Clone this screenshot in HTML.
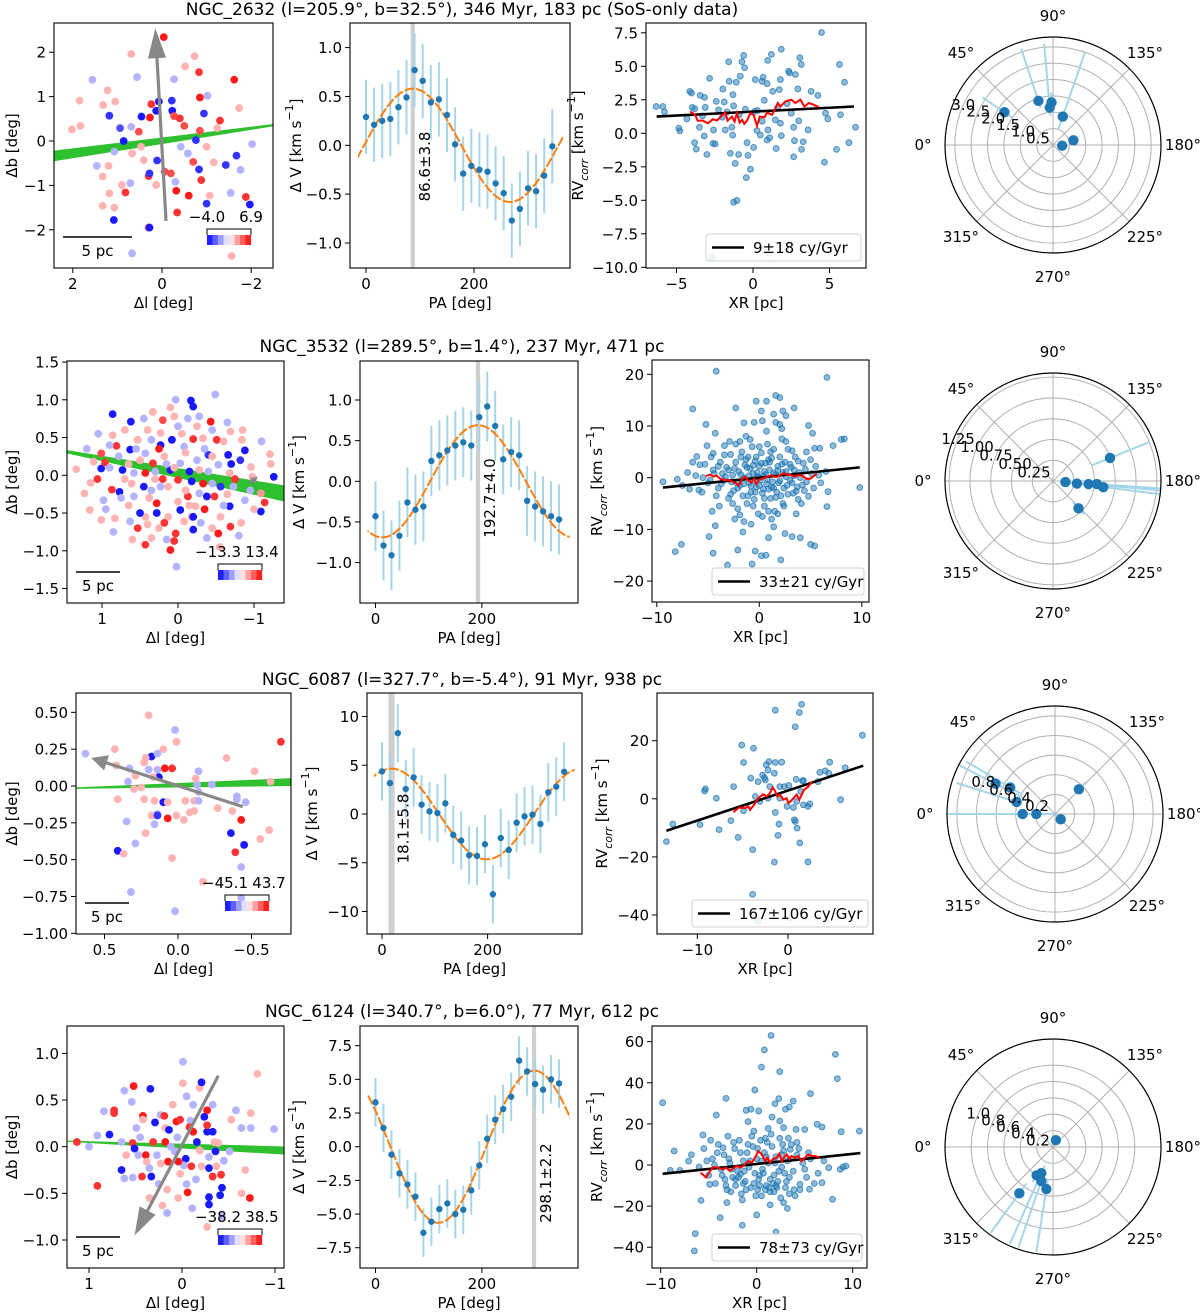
<!DOCTYPE html>
<html><head><meta charset="utf-8"><title>Cluster rotation figure</title>
<style>
html,body{margin:0;padding:0;background:#fff;}
svg{display:block;font-family:"DejaVu Sans","Liberation Sans",sans-serif;}
</style></head>
<body>
<svg id="fig" width="1200" height="1313" viewBox="0 0 1200 1313" xmlns="http://www.w3.org/2000/svg"></svg>
<script>
// ---------------- DATA ----------------
const titles=["NGC_2632 (l=205.9°, b=32.5°), 346 Myr, 183 pc (SoS-only data)","NGC_3532 (l=289.5°, b=1.4°), 237 Myr, 471 pc","NGC_6087 (l=327.7°, b=-5.4°), 91 Myr, 938 pc","NGC_6124 (l=340.7°, b=6.0°), 77 Myr, 612 pc"];
const cbarLabels=[["−4.0","6.9"],["−13.3","13.4"],["−45.1","43.7"],["−38.2","38.5"]];
const legendLabels=["9±18 cy/Gyr","33±21 cy/Gyr","167±106 cy/Gyr","78±73 cy/Gyr"];
const paLabels=["86.6±3.8","192.7±4.0","18.1±5.8","298.1±2.2"];
const sky1=[[-0.04,2.34,0.9],[0.69,1.96,0.3],[-0.73,1.91,0.3],[-0.52,1.68,0.3],[-0.83,1.55,0.8],[-1.62,1.38,0.9],[1.56,1.38,-0.3],[0.56,1.44,-0.3],[-0.27,1.39,-0.3],[1.22,1.14,0.3],[1.85,0.91,0.3],[1.32,0.81,0.3],[1.05,0.89,0.3],[0.24,0.83,0.8],[0.07,0.89,-0.9],[-0.22,0.91,-0.8],[-0.85,0.98,0.9],[-1.02,1.02,-0.3],[-1.73,0.74,0.3],[1.18,0.57,-0.8],[0.46,0.55,-0.9],[0.27,0.53,0.9],[0.13,0.68,-0.9],[-0.23,0.68,-0.9],[-0.27,0.56,0.7],[-0.4,0.51,0.8],[-0.94,0.62,-0.8],[-1.3,0.46,0.8],[2.02,0.26,0.3],[1.83,0.34,0.3],[0.94,0.29,-0.7],[0.69,0.32,-0.3],[0.52,0.21,0.7],[-0.5,0.34,0.7],[-0.85,0.23,0.7],[-1.24,0.29,0.3],[0.86,0,-0.9],[0.47,-0.13,0.3],[1.07,-0.24,-0.3],[0.67,-0.28,0.3],[0.11,-0.44,-0.8],[-0.42,-0.13,-0.3],[-0.58,-0.28,-0.3],[-0.76,0.02,-0.8],[-1.0,-0.13,0.3],[-1.67,-0.33,-0.8],[-2.02,-0.07,-0.3],[1.46,-0.56,-0.3],[1.2,-0.56,0.3],[0.41,-0.43,0.3],[0.3,-0.79,0.8],[0.28,-0.73,-0.8],[-0.06,-0.69,0.7],[-0.2,-0.73,0.7],[-0.7,-0.47,0.7],[-0.83,-0.64,-0.8],[-1.16,-0.48,0.3],[-1.43,-0.54,-0.8],[-1.76,-0.65,-0.3],[-0.88,-0.88,0.8],[1.33,-0.8,0.3],[0.9,-0.99,0.3],[0.71,-0.95,-0.3],[0.13,-0.99,0.3],[-0.3,-0.92,-0.3],[-0.32,-1.12,0.9],[0.82,-1.16,0.8],[1.18,-1.18,0.3],[-0.6,-1.23,0.9],[-1.07,-1.23,0.3],[-1.54,-1.17,-0.3],[-1.88,-1.26,0.8],[1.33,-1.46,0.3],[1.07,-1.5,0.3],[-0.34,-1.61,0.8],[-1.0,-1.41,-0.8],[-1.97,-1.43,-0.9],[1.08,-1.78,-0.9],[0.3,-1.95,0.7],[0.28,-1.95,-0.9],[0.67,-2.53,-0.3],[-1.56,-2.59,0.3]];
const sky2=[[0.86,0.81,-0.9],[0.62,0.71,-0.9],[0.03,1.0,-0.3],[-0.17,0.99,-0.9],[-0.2,0.91,-0.9],[-0.49,1.07,-0.3],[-0.43,0.71,0.9],[-0.65,0.7,-0.3],[0.33,0.84,0.3],[0.2,0.73,0.7],[0.05,0.78,0.3],[-0.13,0.75,-0.3],[-0.28,0.78,-0.3],[-0.69,0.58,0.3],[-0.84,0.47,0.3],[-0.88,0.33,-0.9],[-0.82,0.2,-0.8],[-0.66,0.27,-0.9],[-1.21,0.28,0.3],[-1.22,0.15,0.3],[-1.26,-0.02,-0.9],[-0.96,0.11,0.3],[-0.98,-0.02,0.3],[-1.09,-0.24,0.4],[-1.14,-0.36,0.8],[-1.09,-0.48,-0.9],[-0.88,-0.33,-0.3],[-0.68,-0.41,-0.9],[-0.83,-0.63,0.3],[-0.69,-0.68,0.8],[-0.56,-0.55,0.3],[-0.53,-0.77,0.9],[-0.38,-0.83,-0.3],[-0.2,-0.72,-0.9],[-0.08,-0.61,0.3],[0.03,-0.77,0.8],[0.05,-0.87,0.8],[0.1,-0.99,0.9],[0.02,-1.21,-0.3],[0.43,-0.92,0.8],[0.35,-0.83,0.3],[0.53,-0.7,0.8],[0.63,-0.61,-0.3],[0.83,-0.57,0.3],[1.01,-0.59,0.3],[1.16,-0.46,0.3],[1.23,-0.24,0.3],[1.34,0.08,0.3],[1.11,0.18,0.3],[1.01,0.09,-0.9],[1.06,-0.05,0.8],[0.96,0.17,0.8],[1.01,0.29,0.7],[0.86,0.53,0.3],[0.81,0.39,0.8],[0.78,0.25,-0.3],[0.73,0.07,-0.9],[0.77,-0.22,-0.9],[0.87,-0.19,0.8],[0.98,-0.33,-0.3],[0.63,0.34,-0.9],[0.61,-0.11,0.3],[0.58,-0.28,-0.3],[0.43,0.03,0.9],[0.45,-0.15,-0.9],[0.38,-0.3,0.3],[0.28,-0.37,0.9],[0.23,-0.15,-0.3],[0.33,0.16,0.8],[0.18,0.25,0.3],[0.1,0.07,-0.9],[0.13,-0.15,0.3],[0,-0.06,0.8],[-0.03,0.16,-0.3],[-0.08,0.38,-0.3],[-0.2,0.48,0.8],[0.08,0.47,-0.9],[0.23,0.56,0.3],[0.35,0.47,-0.3],[0.53,0.47,0.3],[-0.33,0.49,0.3],[-0.51,0.47,0.8],[-0.4,0.27,-0.8],[-0.53,0.14,-0.3],[-0.28,0.07,0.3],[-0.18,-0.08,-0.9],[-0.33,-0.11,0.9],[-0.45,-0.11,-0.3],[-0.56,-0.15,-0.8],[-0.28,-0.24,-0.3],[-0.13,-0.28,0.8],[-0.38,-0.28,-0.9],[-0.48,-0.28,0.8],[-0.23,-0.41,0.3],[-0.03,-0.46,-0.9],[0.13,-0.55,0.3],[0.28,-0.5,-0.9],[0.43,-0.55,0.3],[0.18,-0.63,0.8],[-0.18,-0.55,0.3],[-0.3,-0.63,-0.3],[0.58,0.03,-0.3],[0.43,0.29,-0.3],[0.23,0.4,-0.9],[-0.68,0.03,0.3],[-0.73,-0.15,-0.3],[0.3,-0.05,0.3],[-0.1,0.3,0.3],[0.5,0.2,0.3],[-0.35,0.35,-0.3],[0.65,-0.4,0.3],[-0.6,-0.4,-0.3],[0.15,0.15,-0.3],[-0.15,-0.4,0.3],[0.4,0.6,0.3],[-0.45,0.6,-0.3],[0.7,0.6,0.3],[0.9,0.1,-0.3],[0.5,-0.5,-0.9],[0.25,0.35,0.9],[-0.05,0.55,0.3],[-0.25,0.2,-0.3],[-0.6,0.45,0.3],[-0.75,-0.05,0.8],[-0.95,-0.2,-0.3],[-0.45,-0.7,0.3],[0.15,-0.85,-0.3],[0.6,-0.85,0.3],[0.95,-0.45,-0.3],[1.15,-0.1,0.3],[0.05,0.1,0.3],[0.35,-0.2,-0.3],[-0.1,-0.2,0.3],[-0.4,0.05,-0.3],[0.2,-0.05,0.8],[-0.2,-0.55,-0.9],[0.7,-0.05,0.3],[0.55,0.35,-0.3],[-0.7,0.15,-0.9],[0.0,0.65,-0.3],[0.25,-0.7,0.3],[-0.35,-0.45,0.9],[0.9,0.4,-0.3],[-0.85,0.6,0.3],[1.05,0.55,-0.3],[-1.0,-0.45,0.3],[0.45,0.75,-0.3],[-0.25,0.65,0.3],[0.1,0.9,0.3],[-0.55,-0.95,0.3],[0.75,-0.3,-0.3],[-0.15,0.05,-0.9],[0.4,-0.65,0.3],[-0.65,-0.25,0.3],[1.2,0.35,-0.3],[-1.1,0.45,-0.3],[0.3,0.05,-0.3],[0.0,-0.35,0.3],[-0.45,0.25,0.3],[0.65,0.15,0.3],[0.85,-0.75,-0.3],[-0.8,-0.8,-0.3]];
const sky3=[[0.63,0.22,-0.3],[0.43,0.25,0.3],[0.2,0.48,0.3],[0.02,0.38,-0.3],[0.01,0.3,0.3],[0.18,0.2,-0.9],[0.14,0.22,-0.3],[0.1,0.25,0.3],[0.23,0.16,0.3],[0.22,0.19,0.3],[0.42,0.14,0.3],[0.33,0.12,-0.3],[0.2,0.11,-0.3],[0.14,0.11,-0.3],[0.09,0.12,0.9],[0.04,0.12,0.8],[0.13,0.06,-0.9],[0.17,0.06,0.3],[0.29,0.07,0.3],[0.34,0.03,-0.3],[0.3,-0.02,0.3],[0.25,-0.01,0.3],[0.41,-0.09,0.3],[0.23,-0.09,0.3],[0.16,-0.1,0.3],[0.1,-0.11,-0.9],[0.07,-0.11,0.3],[-0.05,-0.1,0.3],[-0.11,-0.1,0.3],[-0.14,-0.1,-0.3],[-0.08,-0.18,0.3],[-0.11,-0.17,0.3],[0.18,-0.2,0.3],[0.14,-0.19,-0.3],[0.14,-0.2,-0.8],[0.07,-0.22,0.9],[0.01,-0.2,0.3],[-0.04,-0.23,0.3],[0.16,-0.26,-0.3],[0.22,-0.32,0.3],[0.35,-0.24,-0.3],[0.29,-0.39,-0.3],[0.41,-0.44,-0.9],[0.37,-0.46,0.3],[0.04,-0.49,0.3],[-0.13,0.01,-0.3],[-0.23,0.01,-0.3],[-0.14,0.1,-0.3],[-0.12,0.05,0.3],[-0.14,-0.04,-0.3],[-0.33,0.19,0.3],[-0.52,0.1,0.3],[-0.63,0.03,0.3],[-0.7,0.3,0.8],[-0.27,-0.15,0.3],[-0.37,-0.17,0.3],[-0.4,-0.07,-0.3],[-0.4,-0.09,-0.3],[-0.46,-0.11,-0.3],[-0.43,-0.23,0.9],[-0.36,-0.32,-0.9],[-0.45,-0.4,-0.9],[-0.39,-0.45,0.8],[-0.56,-0.36,0.3],[-0.62,-0.3,0.3],[-0.43,-0.55,-0.3],[-0.17,-0.65,0.3],[-0.43,-0.76,-0.3],[0.32,-0.72,-0.3],[0.02,-0.85,-0.3]];
const sky4=[[1.13,0.05,0.8],[1,0,-0.3],[0.91,0.12,-0.3],[0.78,0.13,-0.9],[0.91,-0.42,0.8],[0.73,0.39,0.8],[0.73,0.36,0.8],[0.62,0.6,-0.3],[0.52,0.65,0.9],[0.54,0.48,-0.3],[0.34,0.62,-0.9],[0.42,0.33,0.9],[0.42,0.29,0.3],[0.29,0.26,-0.9],[0.49,0.2,-0.3],[0.65,0.05,-0.3],[0.53,0.04,0.8],[0.51,-0.02,-0.9],[0.6,-0.09,0.3],[0.65,-0.25,-0.9],[0.62,-0.34,-0.3],[0.53,-0.33,-0.3],[0.43,-0.32,0.8],[0.33,-0.32,-0.9],[0.39,-0.09,0.9],[0.38,-0.16,0.3],[0.35,-0.23,-0.3],[0.31,0.05,0.8],[0.27,-0.09,-0.3],[0.23,0.34,-0.3],[0.19,0.33,0.8],[0.18,0.2,0.3],[0.14,0.18,-0.9],[0.18,0.05,0.9],[0.15,-0.16,0.9],[0.12,0,-0.3],[0.08,-0.05,-0.3],[0.06,0.27,0.9],[0.02,0.29,0.8],[-0.01,0.91,-0.3],[-0.01,0.68,0.3],[-0.05,0.54,-0.3],[-0.12,0.45,-0.3],[-0.19,0.63,0.3],[-0.21,0.69,-0.9],[-0.33,0.45,-0.3],[-0.27,0.39,0.9],[-0.24,0.32,-0.9],[-0.09,0.28,-0.3],[-0.08,0.21,0.8],[-0.12,0.16,0.9],[-0.16,0.05,-0.9],[-0.27,0.16,-0.9],[-0.33,0.16,-0.9],[-0.27,0.23,0.8],[-0.35,0.05,0.3],[-0.36,-0.05,-0.9],[-0.29,-0.11,-0.3],[-0.19,-0.04,0.3],[-0.04,-0.13,-0.9],[-0.02,-0.2,-0.3],[0.04,-0.16,0.9],[0.02,-0.29,0.3],[-0.1,-0.21,0.8],[-0.21,-0.21,0.3],[-0.29,-0.23,-0.9],[-0.37,-0.21,0.3],[-0.33,-0.32,0.8],[-0.42,-0.3,0.8],[-0.43,-0.44,-0.9],[-0.41,-0.52,-0.9],[-0.29,-0.54,-0.9],[-0.29,-0.62,-0.9],[-0.06,-0.49,0.9],[0.04,-0.55,0.3],[0.16,-0.46,0.3],[0.21,-0.63,0.3],[0.16,-0.71,-0.3],[-0.11,-0.66,-0.3],[-0.53,0.29,0.3],[-0.58,0.39,-0.3],[-0.64,0.2,-0.3],[-0.74,0.36,0.3],[-0.81,0.78,0.3],[-0.99,0.19,-0.3],[-0.74,0.2,-0.3],[-0.39,0.04,0.3],[-0.51,-0.05,-0.3],[-0.68,-0.25,0.3],[-0.64,-0.5,0.3],[-0.73,-0.55,0.9],[-0.27,-0.86,0.3],[-0.43,-0.75,-0.3],[0.84,0.38,-0.3],[0.47,-0.09,-0.3],[0.23,-0.18,0.3],[0.05,0.1,-0.3],[0.25,-0.4,-0.3],[-0.15,-0.35,-0.3],[0.45,0.1,-0.3],[-0.45,-0.15,-0.3],[0.1,0.45,0.3],[-0.05,-0.4,-0.3],[0.35,-0.55,0.3]];
const band1=[[2.45,-0.22],[-2.8,0.42],[-2.8,0.38],[2.45,-0.46]];
const band2=[[1.5,0.34],[-1.5,-0.15],[-1.5,-0.37],[1.5,0.3]];
const band3=[[0.75,-0.012],[-0.8,0.055],[-0.8,0.0],[0.75,-0.02]];
const band4=[[1.25,0.066],[-1.2,0.0],[-1.2,-0.09],[1.25,0.054]];
const arrow1=[-0.09,-1.8,0.15,2.54];
const arrow2=[-0.95,-0.1,-1.05,-0.02];
const arrow3=[-0.44,-0.14,0.59,0.19];
const arrow4=[-0.39,0.76,0.51,-0.95];
const paAngles=[0,15,30,45,60,75,90,105,120,135,150,165,180,195,210,225,240,255,270,285,300,315,330,345];
const dv1=[0.29,0.21,0.25,0.27,0.39,0.49,0.77,0.66,0.44,0.47,0.31,0.01,-0.29,-0.21,-0.25,-0.27,-0.39,-0.49,-0.77,-0.65,-0.44,-0.47,-0.31,-0.01];
const dv2=[-0.43,-0.79,-0.91,-0.67,-0.26,-0.35,-0.31,0.25,0.32,0.38,0.44,0.48,0.44,0.79,0.92,0.68,0.27,0.36,0.32,-0.24,-0.31,-0.37,-0.43,-0.47];
const dv3=[4.37,3.17,8.29,2.56,3.75,0.96,0.27,0.1,1.09,-2.15,-2.73,-4.23,-4.3,-3.1,-8.23,-2.46,-3.69,-0.89,-0.24,-0.07,-1.02,2.22,2.8,4.33];
const dv4=[3.29,1.39,-0.59,-1.98,-2.8,-3.71,-6.39,-5.57,-4.63,-4.21,-5.0,-4.68,-3.24,-1.39,0.59,2.0,2.8,3.71,6.39,5.59,4.65,4.23,5.0,4.7];
const dvErr=[0.38,0.43,3.0,1.8];
const fitAmp=[0.58,0.69,4.65,5.65];
const fitPhase=[86.6,192.7,18.1,298.1];
const fitPhaseErr=[3.8,4.0,5.8,2.2];
const rv1=[[-6.33,2.0],[-5.9,2.0],[-5.79,1.6],[-4.85,0.38],[-4.78,0.18],[-4.13,3.13],[-4.02,3.0],[-3.97,1.93],[-3.8,1.83],[-4.32,1.08],[-3.82,-0.7],[-3.71,-1.18],[-3.5,0.45],[-3.45,2.83],[-3.17,2.68],[-3.12,1.93],[-3.19,-0.2],[-3.01,-1.58],[-2.84,4.1],[-2.62,-0.75],[-2.47,-0.8],[-2.58,0.25],[-2.4,2.38],[-2.25,1.75],[-1.97,3.3],[-1.88,2.33],[-1.81,0.25],[-1.59,5.34],[-1.55,3.88],[-1.48,-1.5],[-1.38,0.45],[-1.33,-0.13],[-1.27,2.05],[-1.27,-5.14],[-1.05,-5.01],[-1.16,-2.25],[-1.31,2.88],[-1.09,3.81],[-0.94,-1.58],[-0.83,4.26],[-0.72,5.34],[-0.61,5.81],[-0.55,4.89],[-0.5,1.8],[-0.39,-0.7],[-0.33,-1.65],[-0.44,-3.31],[-0.17,-2.68],[0.04,-1.05],[0.15,4.01],[0.11,1.63],[0.26,0.2],[0.48,-0.13],[0.59,3.88],[0.66,4.18],[0.74,2.46],[0.96,5.44],[0.92,3.71],[0.92,-0.5],[0.98,0.25],[1.09,-0.33],[1.2,5.89],[1.29,3.13],[1.46,1.0],[1.51,-1.13],[1.72,3.26],[1.79,4.01],[1.79,0.75],[1.85,6.27],[1.85,-0.18],[2.23,2.21],[2.33,4.64],[2.38,4.51],[2.66,0.45],[2.71,-0.55],[2.66,-1.75],[2.77,4.39],[2.93,3.31],[2.99,0.93],[3.06,5.64],[3.15,5.14],[3.17,-1.2],[3.28,-0.63],[3.6,0.25],[3.8,3.13],[4.24,2.83],[4.48,7.52],[4.67,-2.16],[4.74,1.5],[4.89,1.08],[5.46,-1.2],[5.65,5.14],[5.72,1.38],[5.98,3.81],[6.27,-0.7],[6.7,0.45],[-2.69,-9.27],[1.03,-8.95],[-2.0,1.2],[-0.9,1.4],[0.3,1.7],[1.6,1.9],[2.5,1.5],[-3.3,1.3],[0.6,0.9],[-1.7,1.6]];
const rv2=[[-9.4,-0.8],[-8.0,-0.3],[-7.6,-12.9],[-8.2,-14.3],[-6.5,13.3],[-6.5,3.0],[-6.1,4.1],[-6.8,-2.2],[-5.8,2.5],[-5.9,-2.4],[-5.2,10.3],[-5.1,6.2],[-4.9,-11.4],[-4.5,-14.6],[-4.3,-9.3],[-4.2,20.6],[-4.3,8.6],[-4.5,4.7],[-3.4,6.2],[-3.1,-16.9],[-2.3,13.5],[-2.1,-14.0],[-2.3,6.5],[-1.9,7.0],[-1.6,-10.5],[-1.5,10.6],[-0.7,-16.7],[-0.5,10.7],[-0.3,14.8],[-0.4,-14.2],[0.2,12.9],[0.3,11.0],[0.2,-15.1],[0.7,14.8],[0.9,-11.6],[1.4,12.3],[1.6,15.9],[2.0,15.5],[1.6,10.7],[2.0,10.3],[2.3,12.9],[2.2,9.5],[2.1,-15.9],[2.6,12.0],[3.4,13.5],[3.2,-11.4],[4.0,-11.6],[4.8,10.1],[5.2,8.6],[5.4,5.7],[5.9,5.7],[6.6,19.4],[6.6,-5.6],[6.7,-2.7],[7.2,6.2],[8.0,7.4],[8.3,7.5],[9.8,-1.9],[5.0,-12.9],[5.4,-13.2],[2.5,-10.8],[1.4,-9.5],[0.65,-15.0],[-1.5,-8.5],[-4.5,1.5],[-4,-2],[-3.8,3],[-3.5,-0.5],[-3.2,2],[-3,-4],[-2.8,4.5],[-2.6,0.5],[-2.5,-2.5],[-2.3,3],[-2.1,-6],[-2,1.2],[-1.9,-1.5],[-1.7,5],[-1.6,-3.5],[-1.5,0],[-1.4,2.5],[-1.2,-5],[-1.1,4],[-1,-1],[-0.9,1.8],[-0.8,-2.8],[-0.7,6],[-0.6,0.8],[-0.5,-4.2],[-0.4,3.2],[-0.3,-1.8],[-0.2,1],[-0.1,-7],[0,2.2],[0.1,-0.5],[0.2,4.8],[0.3,-3],[0.4,0.3],[0.5,-5.5],[0.6,2.8],[0.7,-1.2],[0.8,6.5],[0.9,-2.2],[1,1.5],[1.1,-4],[1.2,3.8],[1.3,-0.8],[1.4,5.5],[1.5,-6.5],[1.6,0.6],[1.7,-2.8],[1.8,2.2],[1.9,-1],[2,4],[2.1,-3.5],[2.3,1],[2.4,-5.5],[2.5,3],[2.7,-1.5],[2.8,5.5],[3,-0.5],[3.1,2],[3.3,-3],[3.5,4],[3.7,-1.8],[3.9,1],[4.1,-5],[4.3,2.8],[4.6,-0.8],[5,3.5],[5.3,-2],[-5,-1],[-4.7,4],[-3.9,-5.5],[-2.9,7],[-0.8,-9],[0.7,9],[2.2,7.5],[3.6,-7],[-1.3,8],[-5.5,0],[5.8,0.5],[-0.05,0.05],[1.2,-8],[-2.4,-8],[-3.6,0.8],[-2.2,-1],[-1.2,2],[-0.4,-0.6],[0.5,1.2],[1.4,-2],[2.6,0.2],[3.4,1.5],[4.4,-2.5],[-4.2,-3.5],[0.9,3.5],[-1.8,4],[-4.8,-0.5],[-4.4,0.8],[-4.0,2.2],[-3.7,-1.2],[-3.3,0.2],[-3.0,1.5],[-2.7,-0.8],[-2.4,1.8],[-2.1,-2.0],[-1.8,0.6],[-1.5,-1.2],[-1.3,3.5],[-1.0,0.4],[-0.8,-1.6],[-0.6,2.4],[-0.4,-2.8],[-0.2,0.2],[0.0,-1.5],[0.2,2.8],[0.4,-2.2],[0.6,0.6],[0.8,-0.4],[1.0,3.0],[1.2,-1.8],[1.4,0.9],[1.6,-3.8],[1.8,1.4],[2.0,-0.6],[2.2,2.6],[2.4,-2.0],[2.6,1.2],[2.8,-3.2],[3.0,2.6],[3.2,-1.0],[3.4,0.4],[3.6,-2.6],[3.8,3.2],[4.0,0.0],[4.2,-1.4],[4.5,1.6],[4.8,-3.6],[5.1,0.8],[5.5,2.2],[6.0,-1.0],[6.5,1.2],[-5.3,2.6],[-5.6,-2.8],[-6.2,0.4],[-7.0,1.0],[-7.5,-1.5],[-0.3,4.0],[0.5,-4.0],[1.1,5.0],[-1.1,-3.5],[2.3,-5.0],[-2.6,-5.0],[3.2,5.2],[-3.4,4.4],[0.0,6.0],[0.3,-7.5],[-0.9,7.4],[1.8,-7.0],[-1.9,-7.2],[2.6,7.0],[-2.8,-3.2],[3.8,-4.2],[-4.6,-6.5],[4.6,5.0],[-0.6,-5.5],[0.9,-6.5]];
const rv3=[[-13.4,-14.7],[-12.7,-8.7],[-9.7,-8.9],[-9.2,2.7],[-9.1,3.4],[-7.9,0.2],[-7.6,-10.6],[-6.3,-7.5],[-6.0,4.2],[-5.5,-13.3],[-5.1,18.5],[-4.9,12.5],[-4.9,-4.1],[-4.1,7.1],[-3.8,17.4],[-3.9,-17.5],[-3.9,-32.9],[-3.3,5.9],[-3.6,0.8],[-2.8,8.2],[-2.6,7.3],[-2.5,6.5],[-2.4,11.7],[-2.2,9.9],[-2.1,12.8],[-2.0,4.2],[-1.5,-21.8],[-1.5,8.8],[-1.4,12.5],[-1.4,30.5],[-1.4,-4.7],[-1.0,-8.7],[-1.1,-12.6],[-0.9,4.2],[-0.7,12.6],[-0.4,4.2],[-0.1,-2.6],[0.1,4.6],[0.6,-3.0],[0.7,-7.2],[0.8,24.8],[0.9,6.7],[0.96,-0.9],[1.0,-10.1],[1.25,29.7],[1.3,-15.2],[1.4,2.5],[1.5,32.5],[1.6,6.2],[1.7,-2.1],[2.2,-2.6],[2.2,-21.7],[2.4,-1.7],[3.3,5.9],[3.5,9.1],[4.1,9.6],[4.6,12.6],[4.5,8.8],[5.8,-0.3],[6.3,10.7],[8.2,21.9],[-3.3,-42.1],[0.15,-41.1],[-3.1,-0.9],[-2.2,0.2],[-0.9,0.2],[0.8,-7.8],[1.7,6.3]];
const rv4=[[-9.8,30.3],[-8.6,6.8],[-6.4,-33.4],[-6.5,-41.8],[-5.8,-17.2],[-5.6,14.6],[-4.2,24.3],[-3.8,-25.6],[-3.2,32.4],[-1.5,-29.3],[-1.1,26.6],[-0.9,21.1],[-0.6,27.1],[-0.3,16.5],[-0.2,36.5],[0,-24.3],[0.2,26.3],[0.5,47.6],[0.8,56.0],[1.2,17.8],[1.4,-19.4],[1.5,63.0],[1.6,23.3],[1.9,29.8],[2.0,-32.6],[2.3,32.3],[2.4,45.4],[2.4,21.4],[2.8,18.2],[3.0,27.1],[3.2,-21.1],[3.4,28.2],[3.5,7.6],[3.8,31.1],[4.1,17.3],[4.5,-9.4],[5.0,17.3],[5.6,34.7],[5.5,-11.8],[6.3,19.8],[6.8,18.5],[6.8,-8.6],[7.5,-1.3],[7.9,-16.7],[8.2,53.8],[8.4,42.0],[8.8,16.2],[8.7,-2.1],[9.0,-1.0],[9.3,-0.5],[10.7,16.5],[-9.0,-2.6],[-7.1,1.9],[-8.0,-2.6],[-4.9,-9.4],[-3.5,8.4],[-3.1,-18.3],[-1.7,-4.5],[0.5,1.9],[1.4,-7.0],[2.8,-18.3],[-5,-5],[-4.6,3],[-4.3,-9],[-4,10],[-3.7,-2],[-3.4,5],[-3.1,-12],[-2.8,1],[-2.5,-6],[-2.3,8],[-2,-3],[-1.8,12],[-1.6,-14],[-1.4,2],[-1.2,-8],[-1,6],[-0.8,-1],[-0.6,-11],[-0.4,9],[-0.2,-4],[0,3],[0.2,-7],[0.4,12],[0.6,-2],[0.8,6],[1,-10],[1.2,1],[1.4,-13],[1.6,9],[1.8,-5],[2,4],[2.2,-8],[2.4,13],[2.6,-1],[2.8,7],[3,-11],[3.2,2],[3.4,-6],[3.6,10],[3.8,-3],[4.2,5],[4.5,-12],[4.8,1],[5.2,-6],[5.6,3],[6,-9],[-5.5,8],[-6,-1],[-3,14],[0.5,-15],[1.5,15],[-1.5,-17],[2.5,-16],[-2.2,-10],[1.1,11],[0.1,-12],[-0.5,14],[3.3,13],[4,-15],[-4.8,12],[-2.6,-2],[-1.3,-3],[0.3,-5],[1.7,-9],[2.9,-4],[-3.3,-7],[0.9,-12],[2.1,-11],[-4.4,0],[-3.6,-5],[-2.9,3],[-2.2,-7],[-1.7,6],[-1.1,-12],[-0.7,2],[-0.3,-9],[0.1,8],[0.7,-4],[1.0,4],[1.3,-11],[1.9,1],[2.3,-3],[2.7,10],[3.1,-8],[3.5,3],[3.9,-12],[4.4,8],[5.0,-2],[-5.2,2],[-4.1,6],[-3.2,-10],[-2.4,11],[-1.9,-6],[-0.9,10],[0.3,-10],[0.9,13],[1.8,-13],[2.6,5],[3.4,-14],[4.2,11],[-0.1,-15],[-1.4,-9],[2.0,-10],[-2.7,-13],[5.4,6],[6.4,-4],[-6.8,5],[7.0,2]];
const fitLine1=[[-6.3,1.25],[6.6,2.0]];
const fitLine2=[[-9.4,-1.9],[9.8,2.0]];
const fitLine3=[[-13.4,-11.0],[8.3,11.4]];
const fitLine4=[[-9.8,-4.3],[10.8,5.8]];
const run1=[[-4.1,1.63],[-3.78,1.38],[-3.62,0.95],[-3.28,0.95],[-2.95,0.75],[-2.62,1.05],[-2.36,0.95],[-2.14,1.2],[-1.81,1.55],[-1.66,0.95],[-1.38,1.25],[-1.2,0.88],[-1.05,1.5],[-0.87,0.8],[-0.72,1.0],[-0.57,0.7],[-0.39,0.95],[-0.17,1.5],[0.04,1.38],[0.26,0.55],[0.44,1.25],[0.76,1.2],[0.92,1.55],[1.24,1.38],[1.42,1.75],[1.62,2.26],[1.79,2.0],[2.12,2.38],[2.51,2.51],[2.77,2.26],[3.1,2.51],[3.36,2.0],[3.65,2.26],[3.97,2.13],[4.3,1.95]];
const run2=[[-5.2,0.3],[-4.8,0.6],[-4.5,0.2],[-4.2,0.4],[-3.8,-0.2],[-3.4,-0.5],[-3,-0.4],[-2.6,-0.8],[-2.3,-1.0],[-2,-1.5],[-1.7,-0.3],[-1.4,0.2],[-1.1,-0.5],[-0.8,-0.9],[-0.5,-0.2],[-0.3,-1.2],[0,-0.4],[0.4,-0.1],[0.8,0.2],[1.2,0.5],[1.6,0.1],[2,0.4],[2.4,0.9],[2.7,0.5],[3,0.6],[3.4,0.2],[3.8,0.5],[4.2,0.4],[4.6,-0.2],[5,-0.2],[5.3,0.3],[5.6,0.8]];
const run3=[[-6.03,-4.6],[-5.37,-3.0],[-4.74,-3.2],[-4.38,-2.6],[-4.19,-3.8],[-3.75,-2.1],[-3.27,0.2],[-2.72,1.6],[-2.35,0.8],[-1.99,2.0],[-1.69,3.9],[-1.43,2.7],[-1.18,0.8],[-0.88,1.4],[-0.51,-0.3],[-0.15,0.2],[0.04,-1.5],[0.29,-0.9],[0.59,0.2],[0.96,1.4],[1.25,-0.3],[1.51,1.4],[1.76,3.1],[2.24,4.2],[2.68,6.0]];
const run4=[[-5.83,-3.7],[-5.28,-6.1],[-4.86,-2.9],[-4.51,-1.0],[-3.99,-1.3],[-3.54,-2.1],[-3.19,-1.3],[-2.78,-2.9],[-2.43,-1.6],[-2.08,-0.5],[-1.67,-1.3],[-1.22,0.3],[-0.87,1.9],[-0.52,1.1],[-0.17,3.6],[0.17,6.8],[0.52,5.2],[0.87,1.9],[1.11,3.6],[1.39,1.1],[1.67,2.8],[2.08,3.6],[2.36,5.5],[2.6,1.9],[2.85,3.6],[3.13,5.2],[3.4,2.8],[3.65,4.4],[3.99,3.6],[4.34,4.4],[4.69,1.9],[5.03,3.6],[5.38,5.2],[5.73,4.4],[6.08,4.4],[6.53,3.6]];
const polar1=[[71.7,1.42,1.2,3.1],[85,1.15,0.9,3.1],[88,1.3,1.0,1.6],[109,0.92,0.5,3.0],[167,0.64,0.5,0.8],[184,0.28,0.2,0.35],[34,1.79,1.5,2.6]];
const polar2=[[158,0.74,0.5,1.25],[227,0.45,0.35,0.55],[185,0.15,0.1,0.2],[186,0.29,0.2,0.4],[185,0.43,0.3,1.3],[184,0.53,0.4,1.3],[187,0.61,0.4,1.3]];
const polar3=[[27,0.68,0.35,1.1],[30.6,0.53,0.4,1.05],[17.5,0.41,0.4,1.05],[0,0.33,0,1.1],[0,0.19,0.1,0.3],[134,0.35,0.3,0.45],[223,0.08,0.04,0.12]];
const polar4=[[113,0.09,0.05,0.15],[294,0.35,0.25,1.3],[289,0.44,0.3,1.3],[279,0.52,0.4,1.3],[306,0.7,0.55,1.3],[300,0.4,0.3,0.5]];
const polarRmax=[3.3,1.3,1.1,1.32];
const ringVals1=[0.5,1.0,1.5,2.0,2.5,3.0];
const ringVals2=[0.25,0.5,0.75,1.0,1.25];
const ringVals3=[0.2,0.4,0.6,0.8,1.0];
const ringVals4=[0.2,0.4,0.6,0.8,1.0];
const ringLabels1=["0.5","1.0","1.5","2.0","2.5","3.0"];
const ringLabels2=["0.25","0.50","0.75","1.00","1.25"];
const ringLabels3=["0.2","0.4","0.6","0.8",""];
const ringLabels4=["0.2","0.4","0.6","0.8","1.0"];
const skyXT=[[2,0,-2],[1,0,-1],[0.5,0,-0.5],[1,0,-1]];
const skyXL=[["2","0","−2"],["1","0","−1"],["0.5","0.0","−0.5"],["1","0","−1"]];
const skyYT=[[-2,-1,0,1,2],[-1.5,-1,-0.5,0,0.5,1,1.5],[-1,-0.75,-0.5,-0.25,0,0.25,0.5],[-1,-0.5,0,0.5,1]];
const skyYL=[["−2","−1","0","1","2"],["−1.5","−1.0","−0.5","0.0","0.5","1.0","1.5"],["−1.00","−0.75","−0.50","−0.25","0.00","0.25","0.50"],["−1.0","−0.5","0.0","0.5","1.0"]];
const paYT=[[-1,-0.5,0,0.5,1],[-1,-0.5,0,0.5,1],[-10,-5,0,5,10],[-7.5,-5,-2.5,0,2.5,5,7.5]];
const paYL=[["−1.0","−0.5","0.0","0.5","1.0"],["−1.0","−0.5","0.0","0.5","1.0"],["−10","−5","0","5","10"],["−7.5","−5.0","−2.5","0.0","2.5","5.0","7.5"]];
const rvXT=[[-5,0,5],[-10,0,10],[-10,0],[-10,0,10]];
const rvXL=[["−5","0","5"],["−10","0","10"],["−10","0"],["−10","0","10"]];
const rvYT=[[-10,-7.5,-5,-2.5,0,2.5,5,7.5],[-20,-10,0,10,20],[-40,-20,0,20],[-40,-20,0,20,40,60]];
const rvYL=[["−10.0","−7.5","−5.0","−2.5","0.0","2.5","5.0","7.5"],["−20","−10","0","10","20"],["−40","−20","0","20"],["−40","−20","0","20","40","60"]];

// ---------------- LAYOUT (pixels) ----------------
const titleY=[15,352,685,1017];
const skyAx=[{b:[54,23,273,268],xo:162,xs:-44.6,yo:141,ys:-44.4},{b:[67,361,284,603],xo:178,xs:-76,yo:475.3,ys:-75.5},{b:[76,693,291,934],xo:178,xs:-147,yo:786,ys:-147.3},{b:[67,1026,284,1268],xo:182,xs:-93,yo:1146.7,ys:-93.3}];
const paAx=[{b:[350,23,570,268],xo:366,xs:0.54,yo:145.3,ys:-97.7},{b:[360,361,578,603],xo:375.5,xs:0.532,yo:481.3,ys:-81.3},{b:[367,693,582,934],xo:382,xs:0.528,yo:814,ys:-9.75},{b:[360,1026,578,1268],xo:375.5,xs:0.532,yo:1146.7,ys:-13.47}];
const rvAx=[{b:[646,23,866,268],xo:753,xs:15.3,yo:133.3,ys:-13.4},{b:[652,360,869,602],xo:759.3,xs:10.25,yo:477.7,ys:-5.17},{b:[657,693,873,934],xo:788,xs:9.07,yo:798.8,ys:-2.905},{b:[652,1026,867,1268],xo:756.7,xs:9.6,yo:1165,ys:-2.056}];
const polC=[[1053,145],[1053,481],[1055,814],[1053,1147]];
const polR=108;
const paTextDy=[21,16,15,36];
const rvYlabX=[578,597,602,597];
const paYlabX=[296,299,312,299];

// ---------------- DRAWING ----------------
const NS='http://www.w3.org/2000/svg';
const svg=document.getElementById('fig');
function E(tag,attrs,parent,name,inter){
  const e=document.createElementNS(NS,tag);
  for(const k in attrs) e.setAttribute(k,attrs[k]);
  
  
  (parent||svg).appendChild(e);return e;}
function T(x,y,s,attrs,parent,name){
  const a=Object.assign({x:x,y:y,'font-size':15,fill:'#000'},attrs||{});
  const t=E('text',a,parent,name);t.textContent=s;return t;}
function bwr(v){v=Math.max(-1,Math.min(1,v));
  if(v<0){const c=Math.round((1+v)*255);return `rgb(${c},${c},255)`;}
  const c=Math.round((1-v)*255);return `rgb(255,${c},${c})`;}
const X=(a,v)=>a.xo+v*a.xs, Y=(a,v)=>a.yo+v*a.ys;
let clipN=0;
function axesGroup(a,name){
  const g=E('g',{},svg,name);
  const id='clip'+(clipN++);
  const cp=E('clipPath',{id:id},g,name+'-clip');
  E('rect',{x:a.b[0],y:a.b[1],width:a.b[2]-a.b[0],height:a.b[3]-a.b[1]},cp,name+'-clip-rect');
  const inner=E('g',{'clip-path':`url(#${id})`},g,name+'-plot-area');
  return [g,inner];}
function frame(g,a,xt,xl,yt,yl,name){
  E('rect',{x:a.b[0],y:a.b[1],width:a.b[2]-a.b[0],height:a.b[3]-a.b[1],fill:'none',stroke:'#000','stroke-width':1.1},g,name+'-frame');
  xt.forEach((v,i)=>{const x=X(a,v);
    E('line',{x1:x,x2:x,y1:a.b[3],y2:a.b[3]+5,stroke:'#000','stroke-width':1},g,name+'-xtick');
    T(x,a.b[3]+21,xl[i],{'text-anchor':'middle'},g,name+'-xtick-label');});
  yt.forEach((v,i)=>{const y=Y(a,v);
    E('line',{x1:a.b[0]-5,x2:a.b[0],y1:y,y2:y,stroke:'#000','stroke-width':1},g,name+'-ytick');
    T(a.b[0]-8,y+5.5,yl[i],{'text-anchor':'end'},g,name+'-ytick-label');});}
function ylab(g,x,y,parts,name){
  const t=E('text',{x:x,y:y,'font-size':15,'text-anchor':'middle',transform:`rotate(-90 ${x} ${y})`,'dominant-baseline':'central'},g,name);
  parts.forEach(p=>{const s=E('tspan',p[1]||{},t,name+'-part');s.textContent=p[0];});return t;}

const skyData=[sky1,sky2,sky3,sky4], bands=[band1,band2,band3,band4], arrows=[arrow1,arrow2,arrow3,arrow4];
const dvs=[dv1,dv2,dv3,dv4], rvs=[rv1,rv2,rv3,rv4], fits=[fitLine1,fitLine2,fitLine3,fitLine4], runs=[run1,run2,run3,run4];
const polars=[polar1,polar2,polar3,polar4], ringV=[ringVals1,ringVals2,ringVals3,ringVals4], ringL=[ringLabels1,ringLabels2,ringLabels3,ringLabels4];
const arrowHead=[[30,9],[7,4],[16,8],[28,9]];

for(let r=0;r<4;r++){
  T(462,titleY[r],titles[r],{'text-anchor':'middle','font-size':17},svg,'panel-title');
  let a=skyAx[r];let [g,inner]=axesGroup(a,'sky-map');
  E('polygon',{points:bands[r].map(p=>X(a,p[0])+','+Y(a,p[1])).join(' '),fill:'#2ec02e'},inner,'rotation-axis-band');
  skyData[r].forEach(p=>{E('circle',{cx:X(a,p[0]),cy:Y(a,p[1]),r:3.9,fill:bwr(p[2])},inner,'star-point');});
  {const ar=arrows[r];const x0=X(a,ar[0]),y0=Y(a,ar[1]),x1=X(a,ar[2]),y1=Y(a,ar[3]);
   const dx=x1-x0,dy=y1-y0,L=Math.hypot(dx,dy),ux=dx/L,uy=dy/L,nx=-uy,ny=ux;
   const [hl,hw]=arrowHead[r],sw=1.6;const bx=x1-ux*hl,by=y1-uy*hl;
   const pts=[[x0+nx*sw,y0+ny*sw],[bx+nx*sw,by+ny*sw],[bx+nx*hw,by+ny*hw],[x1,y1],[bx-nx*hw,by-ny*hw],[bx-nx*sw,by-ny*sw],[x0-nx*sw,y0-ny*sw]];
   E('polygon',{points:pts.map(p=>p.join(',')).join(' '),fill:'#888'},inner,'rotation-arrow');}
  const sbx0=a.b[0]+9, sbx1=a.b[0]+(r==0?78:53), sby=a.b[3]-31;
  E('line',{x1:sbx0,x2:sbx1,y1:sby,y2:sby,stroke:'#000','stroke-width':1.6},g,'scale-bar');
  T((sbx0+sbx1)/2,sby+19,'5 pc',{'text-anchor':'middle'},g,'scale-bar-label');
  const cx1=a.b[2]-22, cx0=cx1-44, cy1=a.b[3]-23, cy0=cy1-10;
  for(let i=0;i<8;i++){E('rect',{x:cx0+i*5.5,y:cy0,width:5.6,height:10,fill:bwr(-0.875+i*0.25)},g,'colorbar-segment');}
  E('polyline',{points:`${cx0},${cy0} ${cx0},${cy0-6} ${cx1},${cy0-6} ${cx1},${cy0}`,fill:'none',stroke:'#000','stroke-width':1},g,'colorbar-bracket');
  T(cx0,cy0-13,cbarLabels[r][0],{'text-anchor':'middle'},g,'colorbar-min-label');
  T(cx1,cy0-13,cbarLabels[r][1],{'text-anchor':'middle'},g,'colorbar-max-label');
  frame(g,a,skyXT[r],skyXL[r],skyYT[r],skyYL[r],'sky-map');
  T((a.b[0]+a.b[2])/2,a.b[3]+40,'Δl [deg]',{'text-anchor':'middle'},g,'x-axis-title');
  ylab(g,12,(a.b[1]+a.b[3])/2,[['Δb [deg]']],'y-axis-title');
  a=paAx[r];[g,inner]=axesGroup(a,'pa-profile');
  const ph=fitPhase[r],pe=Math.max(fitPhaseErr[r],3.8);
  E('rect',{x:X(a,ph-pe),y:a.b[1],width:X(a,ph+pe)-X(a,ph-pe),height:a.b[3]-a.b[1],fill:'#cfcfcf'},inner,'pa-uncertainty-band');
  paAngles.forEach((p,i)=>{const x=X(a,p);
    E('line',{x1:x,x2:x,y1:Y(a,dvs[r][i]-dvErr[r]),y2:Y(a,dvs[r][i]+dvErr[r]),stroke:'#a5d5e8','stroke-width':2},inner,'error-bar');});
  let d='';for(let p=-40;p<=400;p+=3){d+=(p==-40?'M':'L')+X(a,p).toFixed(1)+','+Y(a,fitAmp[r]*Math.cos((p-ph)*Math.PI/180)).toFixed(1);}
  const lo=X(a,-15),hi=X(a,365);
  const fc=E('clipPath',{id:'fc'+r},g,'fit-clip');E('rect',{x:lo,y:0,width:hi-lo,height:1313},fc,'fit-clip-rect');
  E('path',{d:d,fill:'none',stroke:'#ff7f0e','stroke-width':2,'stroke-dasharray':'10,2','clip-path':`url(#fc${r})`},inner,'sine-fit-curve');
  paAngles.forEach((p,i)=>{E('circle',{cx:X(a,p),cy:Y(a,dvs[r][i]),r:3.2,fill:'#1f77b4'},inner,'dv-point');});
  {const tx=X(a,ph)+12,ty=(a.b[1]+a.b[3])/2+paTextDy[r];
   T(tx,ty,paLabels[r],{'text-anchor':'middle','dominant-baseline':'central',transform:`rotate(-90 ${tx} ${ty})`},g,'pa-value-label');}
  frame(g,a,[0,200],['0','200'],paYT[r],paYL[r],'pa-profile');
  T((a.b[0]+a.b[2])/2,a.b[3]+40,'PA [deg]',{'text-anchor':'middle'},g,'x-axis-title');
  ylab(g,paYlabX[r],(a.b[1]+a.b[3])/2,[['Δ V [km s'],['−1',{'baseline-shift':'super','font-size':11}],[']']],'y-axis-title');
  a=rvAx[r];[g,inner]=axesGroup(a,'rv-gradient');
  rvs[r].forEach(p=>{E('circle',{cx:X(a,p[0]),cy:Y(a,p[1]),r:2.9,fill:'rgba(31,119,180,0.5)',stroke:'rgba(31,119,180,0.75)','stroke-width':1},inner,'rv-point');});
  E('line',{x1:X(a,fits[r][0][0]),y1:Y(a,fits[r][0][1]),x2:X(a,fits[r][1][0]),y2:Y(a,fits[r][1][1]),stroke:'#000','stroke-width':2.6},inner,'linear-fit-line');
  E('polyline',{points:runs[r].map(p=>X(a,p[0]).toFixed(1)+','+Y(a,p[1]).toFixed(1)).join(' '),fill:'none',stroke:'#f00','stroke-width':2},inner,'running-median-line');
  {const lx1=a.b[2]-5,lx0=a.b[0]+(r==2?35:60),ly1=a.b[3]-7,ly0=ly1-27;
   E('rect',{x:lx0,y:ly0,width:lx1-lx0,height:ly1-ly0,rx:3,fill:'rgba(255,255,255,0.85)',stroke:'#d0d0d0'},g,'legend-box');
   E('line',{x1:lx0+6,x2:lx0+38,y1:(ly0+ly1)/2,y2:(ly0+ly1)/2,stroke:'#000','stroke-width':2.6},g,'legend-line-sample');
   T(lx0+47,(ly0+ly1)/2+5.5,legendLabels[r],{},g,'legend-entry');}
  frame(g,a,rvXT[r],rvXL[r],rvYT[r],rvYL[r],'rv-gradient');
  T((a.b[0]+a.b[2])/2,a.b[3]+40,'XR [pc]',{'text-anchor':'middle'},g,'x-axis-title');
  ylab(g,rvYlabX[r],(a.b[1]+a.b[3])/2,[['RV'],['corr',{'baseline-shift':'sub','font-size':11,'font-style':'italic'}],[' [km s'],['−1',{'baseline-shift':'super','font-size':11}],[']']],'y-axis-title');
  const [pcx,pcy]=polC[r];const pg=E('g',{},svg,'polar-plot');const sc=polR/polarRmax[r];
  const P=(th,rr)=>[pcx-rr*sc*Math.cos(th*Math.PI/180),pcy-rr*sc*Math.sin(th*Math.PI/180)];
  ringV[r].forEach(v=>{if(v<polarRmax[r]-0.02)E('circle',{cx:pcx,cy:pcy,r:v*sc,fill:'none',stroke:'#b0b0b0','stroke-width':1},pg,'polar-ring');});
  for(let k=0;k<8;k++){const q=P(k*45,polarRmax[r]);E('line',{x1:pcx,y1:pcy,x2:q[0],y2:q[1],stroke:'#b0b0b0','stroke-width':1},pg,'polar-spoke');}
  polars[r].forEach(p=>{const q0=P(p[0],p[2]),q1=P(p[0],p[3]);E('line',{x1:q0[0],y1:q0[1],x2:q1[0],y2:q1[1],stroke:'#a5d5e8','stroke-width':2},pg,'polar-error-bar');});
  polars[r].forEach(p=>{const q=P(p[0],p[1]);E('circle',{cx:q[0],cy:q[1],r:5.2,fill:'#1f77b4'},pg,'polar-point');});
  ringV[r].forEach((v,i)=>{const q=P(24,v);T(q[0],q[1]+5,ringL[r][i],{'text-anchor':'middle'},pg,'polar-radius-label');});
  E('circle',{cx:pcx,cy:pcy,r:polR,fill:'none',stroke:'#000','stroke-width':1.2},pg,'polar-frame');
  [['0°',-130,5],['45°',-92,-87],['90°',0,-124],['135°',92,-87],['180°',130,5],['225°',92,97],['270°',0,137],['315°',-92,97]].forEach(l=>{
    T(pcx+l[1],pcy+l[2],l[0],{'text-anchor':'middle'},pg,'polar-angle-label');});
}
</script>
</body></html>
